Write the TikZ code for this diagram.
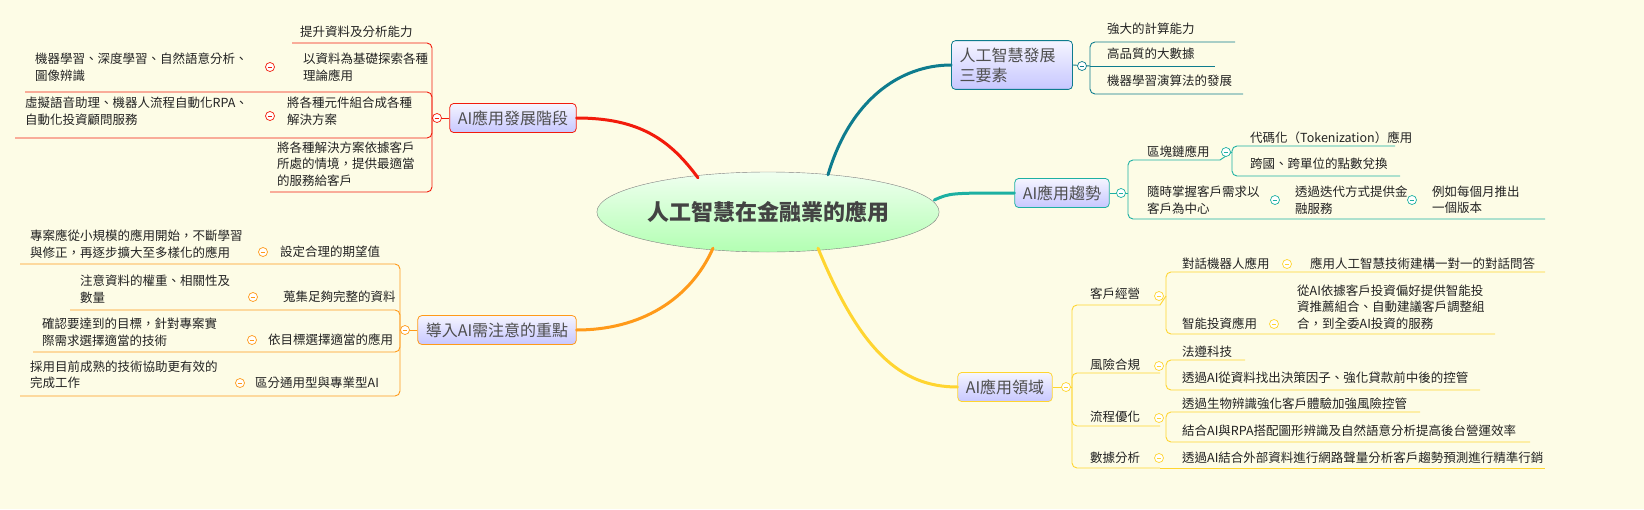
\documentclass[tikz,border=0pt]{standalone}
\usepackage{fontspec}
\setmainfont{Noto Sans CJK TC}
\usetikzlibrary{shapes.geometric}
\definecolor{bg}{HTML}{FDFCE6}
\definecolor{cR}{HTML}{F21B0C}
\definecolor{cT}{HTML}{0E7C8E}
\definecolor{cG}{HTML}{1DB0A2}
\definecolor{cY}{HTML}{FFD530}
\definecolor{cO}{HTML}{FF9A1A}
\definecolor{txt}{HTML}{222222}
\tikzset{
 lbl/.style={font=\fontsize{12.5}{16.5}\selectfont,text=txt,inner sep=0pt,align=left,anchor=west},
 topic/.style={draw=#1,rounded corners=4,top color=blue!4,bottom color=blue!22!white,font=\fontsize{16}{20}\selectfont,text=txt!80,inner xsep=8pt,inner ysep=7pt,align=left,line width=0.8pt},
 br/.style={draw=#1,line width=0.9pt,rounded corners=5},
 mainc/.style={draw=#1,line width=3pt,line cap=round},
}
\newcommand\Cx[3]{\draw[#3,fill=white,line width=0.7pt] (#1,#2) circle (4.5);\draw[#3,line width=0.7pt] (#1-2.3,#2)--(#1+2.3,#2);}
\begin{document}
\begin{tikzpicture}[x=1pt,y=-1pt]
\fill[bg] (0,0) rectangle (1644,509);
\useasboundingbox (0,0) rectangle (1644,509);
% central
\node[ellipse,draw=gray,top color=green!6,bottom color=green!30,minimum width=295,minimum height=80,inner sep=0pt,font=\fontsize{22}{26}\bfseries\selectfont,text=txt!85] (root) at (768,212) {人工智慧在金融業的應用};
% topics
\node[topic=cT,text width=105pt] (t1) at (1012,65) {人工智慧發展\\三要素};
\node[topic=cG] (t2) at (1062,193) {AI應用趨勢};
\node[topic=cY] (t3) at (1005,387) {AI應用領域};
\node[topic=cR] (t4) at (513,118) {AI應用發展階段};
\node[topic=cO] (t5) at (497,330) {導入AI需注意的重點};
% main connectors
\draw[mainc=cT] (root.north)+(60,3) coordinate (a1) .. controls (850,100) and (900,65) .. (t1.west);
\draw[mainc=cG] (root.east)+(-5,-12) coordinate (a2) .. controls (950,193) .. (t2.west);
\draw[mainc=cY] (root.south)+(50,-4) coordinate (a3) .. controls (860,350) and (900,387) .. (t3.west);
\draw[mainc=cR] (root.north)+(-70,6) coordinate (a4) .. controls (670,140) and (640,118) .. (t4.east);
\draw[mainc=cO] (root.south)+(-55,-4) coordinate (a5) .. controls (690,300) and (640,330) .. (t5.east);

% ===== t1 children
\draw[br=cT] (t1.east) -- (1090,66);
\draw[br=cT] (1090,66) |- (1235,42);
\draw[br=cT] (1090,66) -- (1215,66);
\draw[br=cT] (1090,66) |- (1243,94);
\Cx{1082}{66}{cT}
\node[lbl] (t1a) at (1107,29) {強大的計算能力};
\node[lbl] (t1b) at (1107,54) {高品質的大數據};
\node[lbl] (t1c) at (1107,81) {機器學習演算法的發展};

% ===== t2 children
\draw[br=cG] (t2.east) -- (1128,193);
\draw[br=cG] (1128,193) |- (1220,160);
\draw[br=cG] (1128,193) |- (1545,219);
\Cx{1121}{193}{cG}
\node[lbl] (t2a) at (1147,152) {區塊鏈應用};
\draw[br=cG] (1232,152) |- (1395,146);
\draw[br=cG] (1232,152) |- (1400,176);
\draw[br=cG] (1220,160) -- (1232,152);
\Cx{1226}{152}{cG}
\node[lbl] (t2a1) at (1250,138) {代碼化（Tokenization）應用};
\node[lbl] (t2a2) at (1250,164) {跨國、跨單位的點數兌換};
\node[lbl] (t2b) at (1147,200) {隨時掌握客戶需求以\\客戶為中心};
\Cx{1275}{200}{cG}
\node[lbl] (t2b1) at (1295,200) {透過迭代方式提供金\\融服務};
\Cx{1412}{200}{cG}
\node[lbl] (t2b2) at (1432,200) {例如每個月推出\\一個版本};

% ===== t3 children
\draw[br=cY] (t3.east) -- (1072,387);
\Cx{1066}{387}{cY}
\draw[br=cY] (1072,387) |- (1160,305);
\draw[br=cY] (1072,387) |- (1160,373);
\draw[br=cY] (1072,387) |- (1160,426);
\draw[br=cY] (1072,387) |- (1160,468);
\node[lbl] (c1) at (1090,294) {客戶經營};
\node[lbl] (c2) at (1090,365) {風險合規};
\node[lbl] (c3) at (1090,417) {流程優化};
\node[lbl] (c4) at (1090,458) {數據分析};
% c1
\draw[br=cY] (1160,305) -- (1166,296);
\draw[br=cY] (1166,296) |- (1545,272);
\draw[br=cY] (1166,296) |- (1495,334);
\Cx{1159}{296}{cY}
\node[lbl] (c1a) at (1182,264) {對話機器人應用};
\Cx{1287}{264}{cY}
\node[lbl] (c1a1) at (1310,264) {應用人工智慧技術建構一對一的對話問答};
\node[lbl] (c1b) at (1182,324) {智能投資應用};
\Cx{1274}{324}{cY}
\node[lbl] (c1b1) at (1297,307) {從AI依據客戶投資偏好提供智能投\\資推薦組合、自動建議客戶調整組\\合，到全委AI投資的服務};
% c2
\draw[br=cY] (1166,366) |- (1245,360);
\draw[br=cY] (1166,366) |- (1480,390);
\Cx{1159}{366}{cY}
\node[lbl] (c2a) at (1182,352) {法遵科技};
\node[lbl] (c2b) at (1182,378) {透過AI從資料找出決策因子、強化貸款前中後的控管};
% c3
\draw[br=cY] (1166,418) |- (1420,412);
\draw[br=cY] (1166,418) |- (1530,442);
\Cx{1159}{418}{cY}
\node[lbl] (c3a) at (1182,404) {透過生物辨識強化客戶體驗加強風險控管};
\node[lbl] (c3b) at (1182,431) {結合AI與RPA搭配圖形辨識及自然語意分析提高後台營運效率};
% c4
\draw[br=cY] (1160,468) -- (1545,468);
\Cx{1159}{458}{cY}
\node[lbl] (c4a) at (1182,458) {透過AI結合外部資料進行網路聲量分析客戶趨勢預測進行精準行銷};

% ===== t4 children (left)
\draw[br=cR] (t4.west) -- (432,118);
\Cx{437}{118}{cR}
\draw[br=cR] (432,118) |- (292,43);
\draw[br=cR] (432,118) |- (25,92);
\draw[br=cR] (432,118) |- (15,138);
\draw[br=cR] (432,118) |- (270,192);
\node[lbl] (r1) at (300,32) {提升資料及分析能力};
\node[lbl] (r2) at (303,67) {以資料為基礎探索各種\\理論應用};
\Cx{270}{67}{cR}
\node[lbl] (r2a) at (35,67) {機器學習、深度學習、自然語意分析、\\圖像辨識};
\node[lbl] (r3) at (287,111) {將各種元件組合成各種\\解決方案};
\Cx{270}{116}{cR}
\node[lbl] (r3a) at (25,111) {虛擬語音助理、機器人流程自動化RPA、\\自動化投資顧問服務};
\node[lbl] (r4) at (277,164) {將各種解決方案依據客戶\\所處的情境，提供最適當\\的服務給客戶};

% ===== t5 children (left)
\draw[br=cO] (t5.west) -- (400,330);
\Cx{405}{330}{cO}
\draw[br=cO] (400,330) |- (20,264);
\draw[br=cO] (400,330) |- (70,310);
\draw[br=cO] (400,330) |- (33,352);
\draw[br=cO] (400,330) |- (20,396);
\node[lbl] (o1) at (280,252) {設定合理的期望值};
\Cx{263}{252}{cO}
\node[lbl] (o1a) at (30,244) {專案應從小規模的應用開始，不斷學習\\與修正，再逐步擴大至多樣化的應用};
\node[lbl] (o2) at (283,297) {蒐集足夠完整的資料};
\Cx{253}{297}{cO}
\node[lbl] (o2a) at (80,289) {注意資料的權重、相關性及\\數量};
\node[lbl] (o3) at (268,340) {依目標選擇適當的應用};
\Cx{252}{340}{cO}
\node[lbl] (o3a) at (42,332) {確認要達到的目標，針對專案實\\際需求選擇適當的技術};
\node[lbl] (o4) at (255,383) {區分通用型與專業型AI};
\Cx{240}{383}{cO}
\node[lbl] (o4a) at (30,375) {採用目前成熟的技術協助更有效的\\完成工作};
\end{tikzpicture}
\end{document}
